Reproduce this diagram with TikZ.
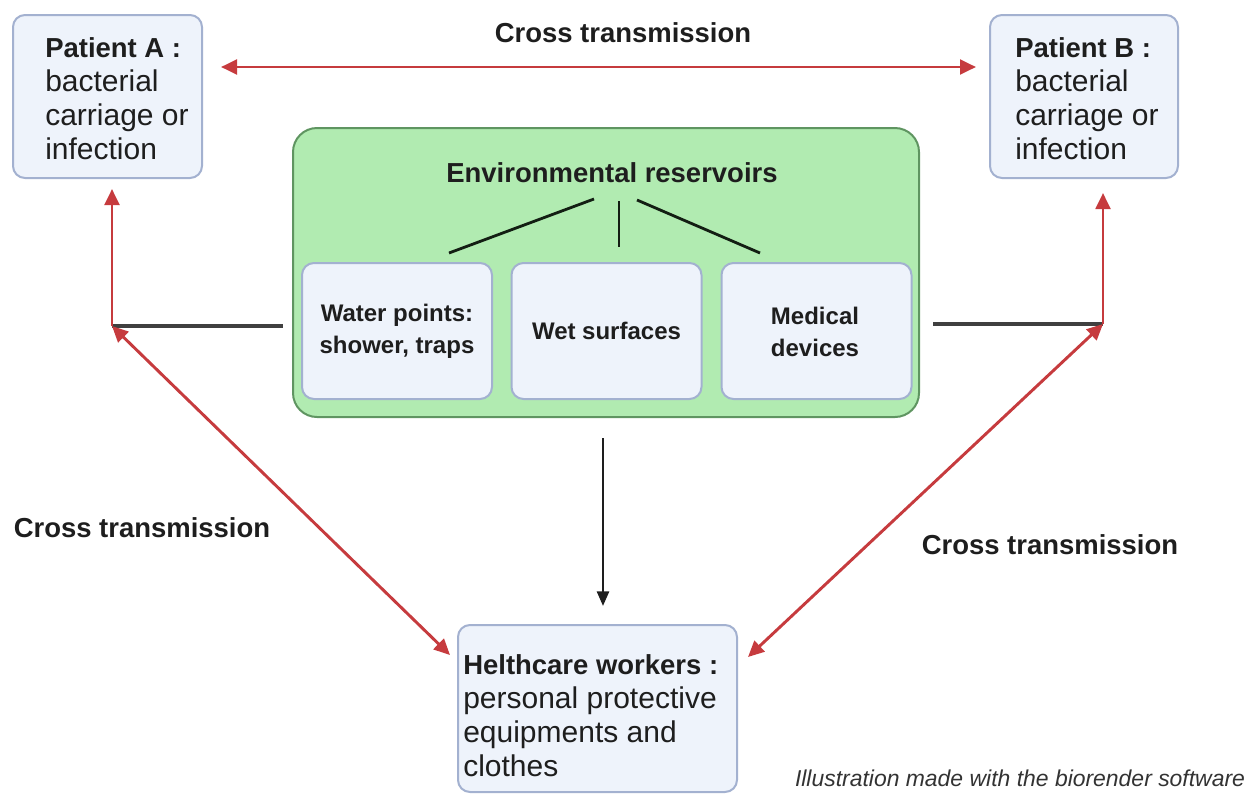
\documentclass[tikz,border=0pt]{standalone}
\usepackage{fontspec}
\setmainfont{Liberation Sans}
\usetikzlibrary{arrows.meta}
\definecolor{boxfill}{HTML}{EEF3FB}
\definecolor{boxline}{HTML}{A3B1D0}
\definecolor{envfill}{HTML}{B1EBB1}
\definecolor{envline}{HTML}{5F9561}
\definecolor{tred}{HTML}{C63B3E}
\definecolor{tdark}{HTML}{1E1E1E}
\newcommand{\titlefont}{\fontsize{20.6}{25.5}\selectfont\bfseries}
\newcommand{\bodyfont}{\fontsize{22.5}{25.5}\selectfont}
\newcommand{\smallbold}{\fontsize{18}{24}\selectfont\bfseries}
\begin{document}
\begin{tikzpicture}[x=0.75pt,y=-0.75pt,
  pbox/.style={draw=boxline, fill=boxfill, line width=1.5pt, rounded corners=9pt, inner sep=0pt},
  envbox/.style={draw=envline, fill=envfill, line width=1.5pt, rounded corners=18pt, inner sep=0pt},
  ibox/.style={draw=boxline, fill=boxfill, line width=1.5pt, rounded corners=9pt, inner sep=0pt,
    minimum width=142.5pt, minimum height=102pt},
  ptext/.style={anchor=north west, inner sep=0pt, align=left, text=tdark, font=\bodyfont},
  ctext/.style={inner sep=0pt, align=center, text=tdark, font=\smallbold},
  lbl/.style={inner sep=0pt, text=tdark, font=\titlefont},
  redtip/.tip={Triangle[length=12pt,width=11pt]},
  redarr/.style={draw=tred, line width=2.2pt, -redtip},
  redboth/.style={draw=tred, line width=2.2pt, redtip-redtip},
  blkline/.style={draw=tdark!85, line width=2.4pt},
  treeline/.style={draw=black!80!envline, line width=2.1pt},
  blkarr/.style={draw=tdark, line width=2pt, -{Triangle[length=11pt,width=9pt]}}]
\useasboundingbox (0,0) rectangle (1249,793);

% boxes
\node[pbox, minimum width=141.75pt, minimum height=122.25pt] (pa) at (107.5,96.5) {};
\node[pbox, minimum width=141pt, minimum height=122.25pt] (pb) at (1084,96.5) {};
\node[envbox, minimum width=469.5pt, minimum height=216.75pt] (env) at (606,272.5) {};
\node[ibox] (w1) at (397,331) {};
\node[ibox] (w2) at (606.5,331) {};
\node[ibox] (w3) at (816.5,331) {};
\node[pbox, minimum width=209.25pt, minimum height=125.25pt] (hw) at (597.5,708.5) {};

% texts in boxes
\node[ptext] (tpa) at (45,37) {{\titlefont Patient A :}\\bacterial\\carriage or\\infection};
\node[ptext] (tpb) at (1015,37) {{\titlefont Patient B :}\\bacterial\\carriage or\\infection};
\node[ptext] (thw) at (463,654) {{\titlefont Helthcare workers :}\\personal protective\\equipments and\\clothes};
\node[lbl] (tenv) at (612,173) {Environmental reservoirs};
\node[ctext] (tw1) at (397,331) {Water points:\\shower, traps};
\node[ctext] (tw2) at (606.5,331) {Wet surfaces};
\node[ctext] (tw3) at (815,332) {Medical\\devices};

% labels
\node[lbl] (ct1) at (623,33) {Cross transmission};
\node[lbl] (ct2) at (142,528) {Cross transmission};
\node[lbl] (ct3) at (1050,545) {Cross transmission};
\node[inner sep=0pt, text=black!80, font=\fontsize{17.2}{20}\selectfont\itshape] (foot) at (1020,778) {Illustration made with the biorender software};

% tree lines
\coordinate (t1a) at (594,199); \coordinate (t1b) at (449,253);
\coordinate (t2a) at (619,201); \coordinate (t2b) at (619,247);
\coordinate (t3a) at (637,200); \coordinate (t3b) at (760,253);
\draw[treeline] (t1a) -- (t1b);
\draw[treeline] (t2a) -- (t2b);
\draw[treeline] (t3a) -- (t3b);

% side connectors
\coordinate (cA) at (112,326);
\coordinate (eA) at (283,326);
\coordinate (cB) at (1103,324);
\coordinate (eB) at (933,324);
\coordinate (hA) at (450,655);
\coordinate (hB) at (748,657);
\draw[blkline] (cA) -- (eA);
\draw[blkline] (eB) -- (cB);
\draw[redarr, shorten >=7.5pt] (cA) -- (cA |- pa.south);
\draw[redarr, shorten >=10.5pt] (cB) -- (cB |- pb.south);
\draw[redboth] (cA) -- (hA);
\draw[redboth] (cB) -- (hB);

% top arrow
\draw[redboth, shorten <=13.5pt, shorten >=9.75pt] (pa.east |- 0,67) -- (pb.west |- 0,67);

% environment to healthcare workers
\coordinate (eD) at (603,438);
\draw[blkarr, shorten >=13.5pt] (eD) -- (eD |- hw.north);
\end{tikzpicture}
\end{document}
